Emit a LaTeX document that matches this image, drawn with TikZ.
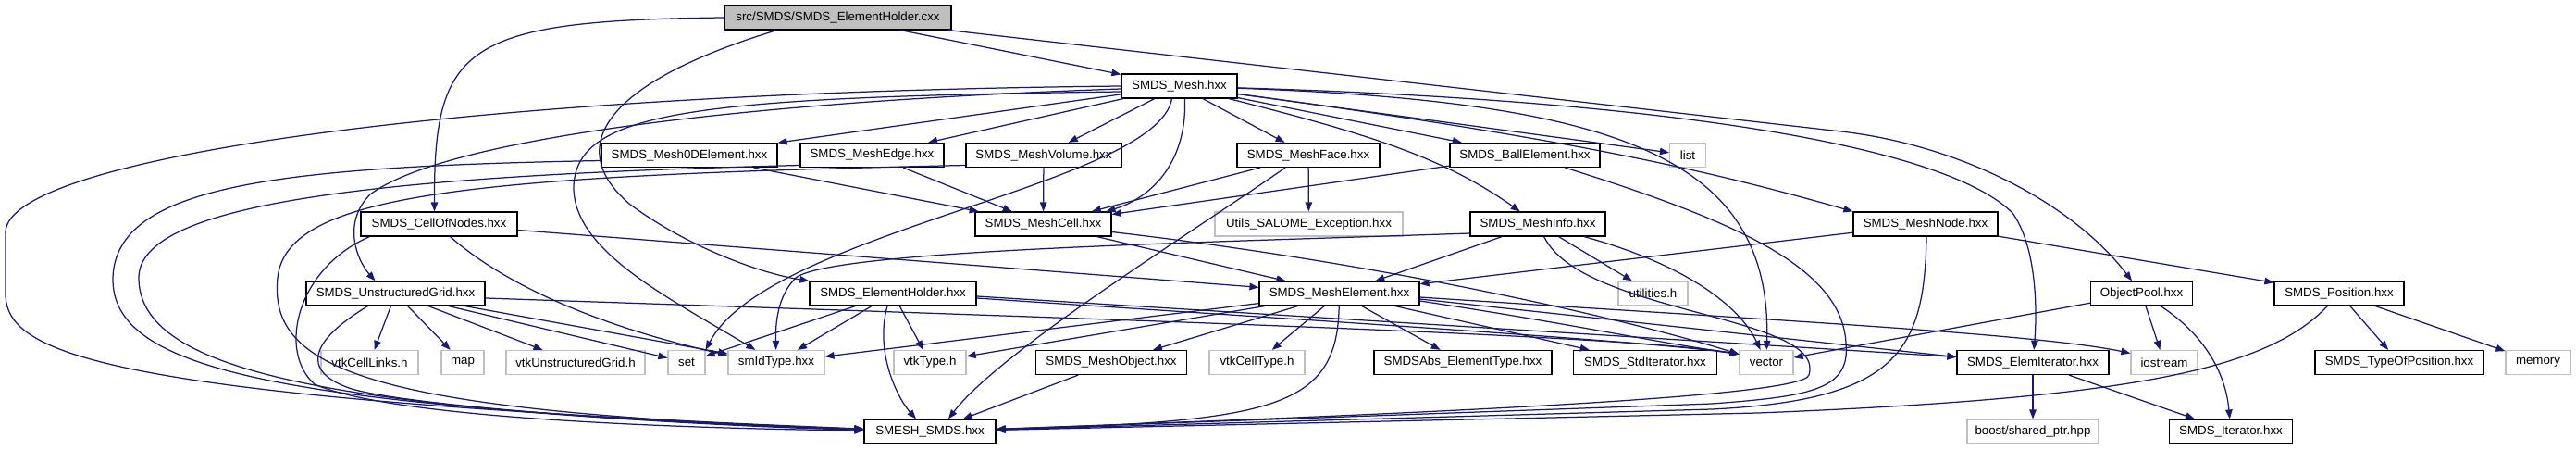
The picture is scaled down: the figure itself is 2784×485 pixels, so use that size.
\documentclass[tikz,border=0pt]{standalone}
\usepackage{fontspec}
\setmainfont{Liberation Sans}
\usetikzlibrary{arrows.meta}
\definecolor{edgecol}{HTML}{191970}
\definecolor{extgray}{HTML}{BFBFBF}
\begin{document}
\begin{tikzpicture}[x=1pt,y=-1pt,
  box/.style={draw=black, line width=1.2pt, fill=white, inner sep=0pt, minimum height=26pt, font=\fontsize{13.3}{15}\selectfont, text=black},
  ext/.style={box, draw=extgray},
  edge/.style={draw=edgecol, line width=1.25pt, -{Triangle[length=10pt,width=7.5pt]}},
]
\useasboundingbox (0,0) rectangle (2784,485);
% nodes
\node[box, fill=extgray, minimum width=245pt] (root) at (905.5,19) {src/SMDS/SMDS\_ElementHolder.cxx};
\node[box, minimum width=125pt] (mesh) at (1274.5,93) {SMDS\_Mesh.hxx};
\node[box, minimum width=190pt] (m0d) at (745,167.5) {SMDS\_Mesh0DElement.hxx};
\node[box, minimum width=155pt] (medge) at (942.5,167.5) {SMDS\_MeshEdge.hxx};
\node[box, minimum width=168pt] (mvol) at (1128,167.5) {SMDS\_MeshVolume.hxx};
\node[box, minimum width=154pt] (mface) at (1414,167.5) {SMDS\_MeshFace.hxx};
\node[box, minimum width=162pt] (ball) at (1648,167.5) {SMDS\_BallElement.hxx};
\node[ext, minimum width=39pt] (list) at (1824,167.5) {list};
\node[box, minimum width=169pt] (cell) at (474.5,242) {SMDS\_CellOfNodes.hxx};
\node[box, minimum width=147pt] (mcell) at (1127.5,242) {SMDS\_MeshCell.hxx};
\node[ext, minimum width=203pt] (utils) at (1414.5,242) {Utils\_SALOME\_Exception.hxx};
\node[box, minimum width=146pt] (minfo) at (1662,242) {SMDS\_MeshInfo.hxx};
\node[box, minimum width=156pt] (mnode) at (2081,242) {SMDS\_MeshNode.hxx};
\node[box, minimum width=193pt] (ug) at (427.5,317) {SMDS\_UnstructuredGrid.hxx};
\node[box, minimum width=180pt] (eh) at (965,317) {SMDS\_ElementHolder.hxx};
\node[box, minimum width=173pt] (melem) at (1447.5,317) {SMDS\_MeshElement.hxx};
\node[ext, minimum width=75pt] (util) at (1786.5,317) {utilities.h};
\node[box, minimum width=110pt] (pool) at (2314.5,317) {ObjectPool.hxx};
\node[box, minimum width=140pt] (pos) at (2528,317) {SMDS\_Position.hxx};
\node[ext, minimum width=105pt] (links) at (399.5,391.5) {vtkCellLinks.h};
\node[ext, minimum width=46pt] (map) at (500,391.5) {map};
\node[ext, minimum width=150pt] (vug) at (622,391.5) {vtkUnstructuredGrid.h};
\node[ext, minimum width=40pt] (set) at (742,391.5) {set};
\node[ext, minimum width=104pt] (smid) at (839,391.5) {smIdType.hxx};
\node[ext, minimum width=78pt] (vtype) at (1005,391.5) {vtkType.h};
\node[box, minimum width=163pt] (mobj) at (1201,391.5) {SMDS\_MeshObject.hxx};
\node[ext, minimum width=103pt] (vcell) at (1358.5,391.5) {vtkCellType.h};
\node[box, minimum width=192pt] (abs) at (1581,391.5) {SMDSAbs\_ElementType.hxx};
\node[box, minimum width=155pt] (std) at (1778,391.5) {SMDS\_StdIterator.hxx};
\node[ext, minimum width=58pt] (vec) at (1909,391.5) {vector};
\node[box, minimum width=164pt] (eiter) at (2197,391.5) {SMDS\_ElemIterator.hxx};
\node[ext, minimum width=72pt] (ios) at (2339,391.5) {iostream};
\node[box, minimum width=182pt] (tpos) at (2593,391.5) {SMDS\_TypeOfPosition.hxx};
\node[ext, minimum width=70pt] (mem) at (2743,391.5) {memory};
\node[box, minimum width=142pt] (smesh) at (1005,466) {SMESH\_SMDS.hxx};
\node[ext, minimum width=142pt] (boost) at (2197,466) {boost/shared\_ptr.hpp};
\node[box, minimum width=133pt] (iter) at (2411,466) {SMDS\_Iterator.hxx};
% root edges
\draw[edge] (root) -- (mesh);
\draw[edge] (root) -- (1990,142) .. controls (2120,157) and (2240,220) .. (pool);
\draw[edge] (root.west) .. controls (500,22) and (469,50) .. ([xshift=-5]cell.north);
\draw[edge] ([xshift=-66]root.south) .. controls (650,90) and (610,160) .. (680,220) .. controls (740,265) and (820,295) .. (eh.north west);
% SMDS_Mesh edges
\draw[edge] (mesh.west) .. controls (500,100) and (10,170) .. (6,250) -- (6,320) .. controls (10,380) and (100,430) .. (smesh);
\draw[edge] ([yshift=-3]mesh.west) .. controls (800,110) and (480,150) .. (400,210) .. controls (370,240) and (385,280) .. ([xshift=-22]ug.north);
\draw[edge] ([yshift=-6]mesh.west) .. controls (750,105) and (625,120) .. (620,200) .. controls (618,270) and (720,320) .. (smid);
\draw[edge] (mesh) -- (m0d);
\draw[edge] (mesh) -- (medge);
\draw[edge] (mesh) -- (mvol);
\draw[edge] (mesh) -- (mface);
\draw[edge] (mesh) -- (ball);
\draw[edge] (mesh) -- (list);
\draw[edge] (mesh) .. controls (1480,145) and (1560,170) .. (minfo);
\draw[edge] (mesh) .. controls (1700,150) and (1850,185) .. (mnode.north west);
\draw[edge] ([xshift=6]mesh.south) .. controls (1283,180) and (1240,215) .. ([xshift=68]mcell.north);
\draw[edge] ([xshift=-8]mesh.south) .. controls (1250,200) and (830,250) .. (set.north east);
\draw[edge] (mesh) .. controls (1750,110) and (1915,170) .. (vec);
\draw[edge] (mesh) .. controls (1850,110) and (2110,165) .. (2175,230) .. controls (2200,265) and (2202,330) .. (eiter);
% second row
\draw[edge] (m0d) -- (mcell);
\draw[edge] ([yshift=-6]m0d.west) .. controls (300,180) and (125,200) .. (122,300) .. controls (120,400) and (300,440) .. (smesh);
\draw[edge] (medge) -- (mcell);
\draw[edge] ([yshift=-11]medge.west) .. controls (400,190) and (150,220) .. (150,300) .. controls (150,400) and (350,445) .. (smesh);
\draw[edge] (mvol) -- (mcell);
\draw[edge] ([yshift=-11]mvol.west) .. controls (500,190) and (310,210) .. (300,300) .. controls (290,400) and (400,445) .. (smesh);
\draw[edge] (mface) -- (mcell);
\draw[edge] (mface) -- (utils);
\draw[edge] ([xshift=-25]mface.south) .. controls (1290,250) and (1080,380) .. ([xshift=20]smesh.north);
\draw[edge] (ball) -- (mcell);
\draw[edge] (ball) .. controls (1880,240) and (1990,290) .. (1995,370) .. controls (2000,420) and (1960,428) .. (1850,436) -- (smesh);
% third row
\draw[edge] ([xshift=10]cell.south west) .. controls (320,290) and (300,380) .. (340,415) .. controls (420,450) and (700,462) .. (smesh);
\draw[edge] ([xshift=12]cell.south) .. controls (560,320) and (680,360) .. ([yshift=8]smid.west);
\draw[edge] (cell) -- (melem);
\draw[edge] (mcell) -- (melem);
\draw[edge] (mcell) .. controls (1500,285) and (1760,345) .. ([yshift=9]vec.west);
\draw[edge] ([yshift=-10]minfo.west) .. controls (1300,262) and (900,270) .. (860,300) .. controls (840,320) and (838,350) .. (smid);
\draw[edge] (minfo) -- (melem);
\draw[edge] (minfo) -- (util);
\draw[edge] (minfo) .. controls (1820,285) and (1880,330) .. (vec);
\draw[edge] (minfo) .. controls (1710,340) and (1975,340) .. (1955,405) .. controls (1950,430) and (1500,448) .. (smesh);
\draw[edge] (mnode) -- (melem);
\draw[edge] (mnode) -- (pos);
\draw[edge] ([xshift=1]mnode.south) .. controls (2080,380) and (2050,432) .. (1850,442) -- (smesh);
% fourth row
\draw[edge] ([xshift=-30]ug.south) .. controls (340,365) and (320,400) .. (380,420) .. controls (450,440) and (750,460) .. (smesh);
\draw[edge] (ug) -- (links);
\draw[edge] (ug) -- (map);
\draw[edge] (ug) -- (vug);
\draw[edge] (ug) -- (set);
\draw[edge] (ug) -- (smid);
\draw[edge] ([yshift=-5]ug.east) .. controls (1200,345) and (1760,362) .. ([yshift=9]vec.west);
\draw[edge] (eh) -- (set);
\draw[edge] (eh) -- (smid);
\draw[edge] ([xshift=-6]eh.south) .. controls (945,380) and (970,430) .. ([xshift=-15]smesh.north);
\draw[edge] (eh) -- (vtype);
\draw[edge] ([yshift=-5]eh.east) .. controls (1400,345) and (1780,368) .. ([yshift=9]vec.west);
\draw[edge] ([yshift=-3]eh.east) -- ([yshift=6]eiter.west);
\draw[edge] (melem) -- (smid);
\draw[edge] (melem) -- (vtype);
\draw[edge] (melem) -- (mobj);
\draw[edge] (melem) -- (vcell);
\draw[edge] (melem) .. controls (1445,440) and (1380,455) .. (smesh);
\draw[edge] (melem) -- (abs);
\draw[edge] (melem) -- (std);
\draw[edge] ([yshift=-8]melem.east) .. controls (1700,350) and (1780,368) .. ([yshift=9]vec.west);
\draw[edge] ([yshift=-6]melem.east) -- ([yshift=6]eiter.west);
\draw[edge] ([yshift=-4]melem.east) .. controls (1900,345) and (2200,360) .. ([yshift=10]ios.west);
\draw[edge] (pool) -- (vec);
\draw[edge] (pool) -- (ios);
\draw[edge] (pool) .. controls (2380,360) and (2405,400) .. (iter);
\draw[edge] (pos) -- (tpos);
\draw[edge] (pos) -- (mem);
\draw[edge] (pos) .. controls (2450,400) and (2300,430) .. (1900,446) -- (smesh);
% fifth row
\draw[edge] (eiter) -- (boost);
\draw[edge] (eiter) -- (iter);
\draw[edge] (mobj) -- (smesh);
\end{tikzpicture}
\end{document}
